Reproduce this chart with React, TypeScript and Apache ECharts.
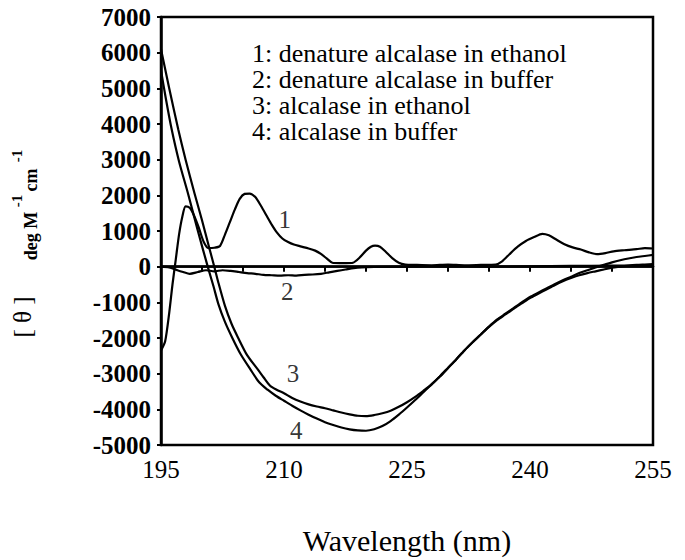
import React, { useEffect, useRef } from "react";
import * as echarts from "echarts";

const FONT = "'Liberation Serif'";

const legendLines = [
  "1: denature alcalase in ethanol",
  "2: denature alcalase in buffer",
  "3: alcalase in ethanol",
  "4: alcalase in buffer",
];

const xTickLabels = [195, 210, 225, 240, 255];

// curve 1: denature alcalase in ethanol
const curve1: [number, number][] = [
  [195.0, -2350], [195.5, -2100], [196.0, -1300], [196.4, -500], [196.8, 200],
  [197.2, 900], [197.6, 1400], [198.0, 1690], [198.5, 1650], [199.0, 1450],
  [199.6, 1100], [200.2, 700], [200.8, 520], [201.5, 530], [202.2, 580],
  [202.8, 900], [203.4, 1250], [204.0, 1600], [204.6, 1900], [205.2, 2040],
  [205.8, 2050], [206.5, 1950], [207.2, 1700], [207.9, 1420], [208.5, 1180],
  [209.1, 970], [209.8, 790], [210.5, 690], [211.2, 620], [212.0, 570],
  [213.0, 510], [213.8, 450], [214.5, 360], [215.2, 230], [215.9, 110],
  [216.8, 100], [217.6, 100], [218.4, 110], [219.2, 250], [220.0, 450],
  [220.6, 560], [221.1, 590], [221.7, 560], [222.4, 420], [223.2, 240],
  [224.0, 110], [224.8, 60], [226.0, 50], [228.0, 40], [230.0, 60],
  [232.0, 40], [234.0, 50], [235.8, 60], [236.6, 150], [237.5, 350],
  [238.5, 560], [239.5, 720], [240.5, 830], [241.5, 920], [242.3, 880],
  [243.2, 760], [244.2, 630], [245.2, 540], [246.2, 480], [247.2, 400],
  [248.2, 350], [249.2, 380], [250.2, 430], [251.5, 460], [253.0, 490],
  [254.0, 520], [255.0, 510],
];

// curve 2: denature alcalase in buffer
const curve2: [number, number][] = [
  [195.0, 0], [196.0, -20], [197.0, -100], [197.7, -150], [198.5, -200],
  [199.5, -150], [200.5, -100], [201.5, -130], [202.5, -100], [203.5, -120],
  [204.5, -150], [205.5, -180], [206.5, -200], [207.5, -230], [208.5, -240],
  [209.5, -250], [210.5, -240], [211.5, -250], [212.5, -230], [213.5, -220],
  [214.5, -200], [215.5, -160], [216.5, -120], [217.5, -80], [218.5, -40],
  [219.5, -20], [221.0, -10], [225.0, 0], [230.0, 10], [235.0, 0],
  [240.0, 10], [245.0, 20], [250.0, 30], [255.0, 30],
];

// curve 3: alcalase in ethanol
const curve3: [number, number][] = [
  [195.0, 6100], [196.0, 5000], [197.1, 3850], [198.0, 3000], [199.1, 2045],
  [200.0, 1300], [200.8, 600], [201.5, 0], [202.0, -450], [202.8, -1100],
  [203.6, -1600], [204.4, -1990], [205.5, -2480], [206.8, -2880], [207.5, -3100],
  [208.3, -3340], [209.1, -3450], [210.0, -3550], [211.0, -3680], [212.0, -3780],
  [213.0, -3860], [214.0, -3920], [215.0, -3970], [216.0, -4030], [217.0, -4090],
  [218.0, -4140], [219.0, -4180], [220.0, -4190], [221.0, -4160], [222.0, -4110],
  [223.0, -4040], [224.0, -3930], [225.0, -3800], [226.0, -3650], [227.0, -3480],
  [228.0, -3300], [229.0, -3080], [230.0, -2840], [231.0, -2600], [232.0, -2350],
  [233.0, -2120], [234.0, -1900], [235.0, -1680], [236.0, -1480], [237.0, -1320],
  [238.0, -1160], [239.0, -1000], [240.0, -850], [241.0, -730], [242.0, -610],
  [243.0, -490], [244.0, -380], [245.0, -280], [246.0, -180], [247.0, -100],
  [248.0, -20], [249.0, 50], [250.0, 120], [251.0, 180], [252.0, 230],
  [253.0, 270], [254.0, 300], [255.0, 330],
];

// curve 4: alcalase in buffer
const curve4: [number, number][] = [
  [195.0, 5500], [195.6, 4700], [196.3, 3850], [197.2, 2950], [198.3, 2045],
  [199.5, 1000], [200.7, 0], [201.4, -550], [202.0, -1050], [202.8, -1550],
  [203.7, -2000], [204.7, -2450], [205.9, -2880], [207.0, -3250], [208.0, -3450],
  [209.0, -3620], [210.0, -3760], [211.0, -3900], [212.0, -4030], [213.0, -4150],
  [214.0, -4260], [215.0, -4360], [216.0, -4440], [217.0, -4510], [218.0, -4560],
  [219.0, -4590], [220.0, -4600], [221.0, -4560], [222.0, -4470], [223.0, -4330],
  [224.0, -4150], [225.0, -3950], [226.0, -3740], [227.0, -3520], [228.0, -3300],
  [229.0, -3080], [230.0, -2840], [231.0, -2600], [232.0, -2350], [233.0, -2120],
  [234.0, -1900], [235.0, -1690], [236.0, -1500], [237.0, -1340], [238.0, -1180],
  [239.0, -1030], [240.0, -880], [241.0, -760], [242.0, -640], [243.0, -520],
  [244.0, -410], [245.0, -320], [246.0, -240], [247.0, -180], [248.0, -130],
  [249.0, -80], [250.0, -30], [251.0, 0], [252.0, 30], [253.0, 50],
  [254.0, 60], [255.0, 70],
];

const baseline: [number, number][] = [[195, 0], [255, 0]];

const curveLabels = [
  { name: "1", value: [210.1, 1320] },
  { name: "2", value: [210.4, -700] },
  { name: "3", value: [211.1, -2990] },
  { name: "4", value: [211.5, -4600] },
];

export default function App() {
  const ref = useRef<HTMLDivElement>(null);

  useEffect(() => {
    document.body.style.margin = "0";
    if (!ref.current) return;
    const chart = echarts.init(ref.current, null, { renderer: "svg" });
    const lineStyle = { color: "#000", width: 2.2 };
    const mkLine = (name: string, data: [number, number][]) => ({
      name,
      type: "line",
      data,
      showSymbol: false,
      symbol: "none",
      smooth: 0.25,
      lineStyle,
      z: 3,
    });
    const rotText = (text: string, x: number, y: number, size: number, weight: string) => ({
      type: "text",
      x,
      y,
      rotation: Math.PI / 2,
      style: {
        text,
        fontFamily: FONT,
        fontSize: size,
        fontWeight: weight,
        fill: "#000",
        align: "center",
        verticalAlign: "middle",
      },
    });
    chart.setOption({
      animation: false,
      backgroundColor: "#fff",
      textStyle: { fontFamily: FONT },
      grid: {
        left: 161,
        top: 17,
        width: 492,
        height: 446,
        show: true,
        borderColor: "#000",
        borderWidth: 2.5,
        backgroundColor: "transparent",
      },
      xAxis: {
        type: "value",
        min: 195,
        max: 255,
        interval: 5,
        name: "Wavelength (nm)",
        nameLocation: "middle",
        nameGap: 80,
        nameTextStyle: { fontFamily: FONT, fontSize: 30, color: "#000" },
        axisLine: { show: true, lineStyle: { color: "#000", width: 2.5 } },
        axisTick: { show: true, inside: false, length: 5, lineStyle: { color: "#000", width: 2 } },
        axisLabel: {
          margin: 12,
          fontFamily: FONT,
          fontSize: 25,
          color: "#000",
          formatter: (v: number) => (xTickLabels.indexOf(v) >= 0 ? String(v) : ""),
        },
        splitLine: { show: false },
      },
      yAxis: {
        type: "value",
        min: -5000,
        max: 7000,
        interval: 1000,
        axisLine: { show: true, lineStyle: { color: "#000", width: 2.5 } },
        axisTick: { show: true, inside: false, length: 4, lineStyle: { color: "#000", width: 2 } },
        axisLabel: {
          margin: 10,
          fontFamily: FONT,
          fontSize: 25,
          fontWeight: "bold",
          color: "#000",
          formatter: (v: number) => String(v),
        },
        splitLine: { show: false },
      },
      graphic: [
        ...legendLines.map((t, i) => ({
          type: "text",
          left: 252,
          top: 40 + i * 26.3,
          style: {
            text: t,
            fontFamily: FONT,
            fontSize: 26,
            fill: "#000",
          },
        })),
        rotText("[ θ ]", 22, 317, 25, "normal"),
        rotText("deg M", 31, 236, 18, "bold"),
        rotText("-1", 17, 201, 15, "bold"),
        rotText("cm", 31, 180, 18, "bold"),
        rotText("-1", 17, 156, 15, "bold"),
      ],
      series: [
        {
          name: "baseline",
          type: "line",
          data: baseline,
          symbol: "none",
          lineStyle: { color: "#000", width: 2.2 },
          z: 2,
        },
        mkLine("1: denature alcalase in ethanol", curve1),
        mkLine("2: denature alcalase in buffer", curve2),
        mkLine("3: alcalase in ethanol", curve3),
        mkLine("4: alcalase in buffer", curve4),
        {
          name: "labels",
          type: "scatter",
          data: curveLabels,
          symbolSize: 1,
          itemStyle: { color: "transparent" },
          label: {
            show: true,
            position: "inside",
            formatter: (p: any) => p.name,
            fontFamily: FONT,
            fontSize: 25,
            color: "#000",
          },
          z: 5,
        },
      ],
    });
    return () => chart.dispose();
  }, []);

  return <div ref={ref} style={{ width: 685, height: 560 }} />;
}
